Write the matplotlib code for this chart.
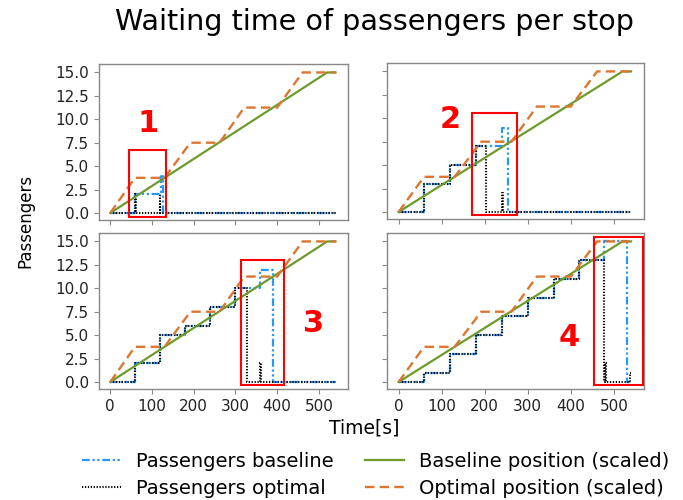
import matplotlib
matplotlib.use("Agg")
import matplotlib.pyplot as plt
from matplotlib.patches import Rectangle

# ---- data ----
pos_base_t = [0, 520, 540]
pos_base_v = [0, 15, 15]
pos_opt_t = [0, 59, 130, 192, 262, 321, 400, 461, 540]
pos_opt_v = [0, 3.75, 3.75, 7.5, 7.5, 11.25, 11.25, 15, 15]

base_t = [
    [0, 60, 122, 127, 540],
    [0, 60, 120, 180, 240, 254, 540],
    [0, 60, 120, 180, 240, 300, 360, 390, 540],
    [0, 60, 120, 180, 240, 300, 360, 420, 478, 530, 540],
]
base_v = [
    [0, 2, 4, 0, 0],
    [0, 3, 5, 7, 9, 0, 0],
    [0, 2, 5, 6, 8, 10, 12, 0, 0],
    [0, 1, 3, 5, 7, 9, 11, 13, 15, 0, 0],
]
opt_t = [
    [0, 60, 62, 118, 120, 540],
    [0, 60, 120, 180, 202, 240, 242, 540],
    [0, 60, 120, 180, 240, 300, 328, 360, 362, 540],
    [0, 60, 120, 180, 240, 300, 360, 420, 476, 480, 482, 537, 540],
]
opt_v = [
    [0, 2, 0, 2, 0, 0],
    [0, 3, 5, 7, 0, 2, 0, 0],
    [0, 2, 5, 6, 8, 10, 0, 2, 0, 0],
    [0, 1, 3, 5, 7, 9, 11, 13, 0, 2, 0, 1, 1],
]
labels_num = ["1", "2", "3", "4"]
label_xy = [(90, 9.6), (120, 9.9), (488, 6.2), (397, 4.8)]
boxes = [(46, -0.42, 134, 6.7), (171, -0.28, 274, 10.56),
         (313, -0.3, 416, 13.0), (453, -0.3, 567, 15.5)]

BLUE = "#2a97f5"
GREEN = "#6d9b2b"
ORANGE = "#dc7630"

fig = plt.figure(figsize=(6.83, 5.0), dpi=100)
rects = [
    [0.145, 0.560, 0.3646, 0.312],
    [0.5666, 0.562, 0.3763, 0.312],
    [0.145, 0.222, 0.3646, 0.312],
    [0.5666, 0.222, 0.3763, 0.312],
]
axes = []
for i, r in enumerate(rects):
    ax = fig.add_axes(r)
    axes.append(ax)
    lb, = ax.plot(base_t[i], base_v[i], drawstyle="steps-post", color=BLUE,
                  lw=1.6, linestyle=(0, (3.5, 1.2, 1, 1.2, 1, 1.2)),
                  label="Passengers baseline")
    lo, = ax.plot(opt_t[i], opt_v[i], drawstyle="steps-post", color="black",
                  lw=1.5, linestyle=(0, (0.6, 0.8)), label="Passengers optimal")
    lg, = ax.plot(pos_base_t, pos_base_v, color=GREEN, lw=1.6,
                  label="Baseline position (scaled)")
    lr, = ax.plot(pos_opt_t, pos_opt_v, color=ORANGE, lw=1.7,
                  linestyle=(0, (4, 2.2)), label="Optimal position (scaled)")
    x0, y0, x1, y1 = boxes[i]
    ax.add_patch(Rectangle((x0, y0), x1 - x0, y1 - y0, fill=False,
                           edgecolor="red", lw=1.5, zorder=5))
    ax.text(label_xy[i][0], label_xy[i][1], labels_num[i], color="red",
            fontsize=22, fontweight="bold", ha="center", va="center")
    ax.set_xlim(-27, 570)
    ax.set_ylim(-0.75, 15.9)
    ax.set_xticks([0, 100, 200, 300, 400, 500])
    ax.set_yticks([0, 2.5, 5, 7.5, 10, 12.5, 15])
    for s in ax.spines.values():
        s.set_color("#888888")
        s.set_linewidth(1.0)
    ax.tick_params(colors="#888888", labelcolor="#222222", labelsize=11,
                   length=3.5, width=0.8)
    if i in (0, 1):
        ax.set_xticklabels([])
    if i in (1, 3):
        ax.set_yticklabels([])
    else:
        ax.set_yticklabels(["0.0", "2.5", "5.0", "7.5", "10.0", "12.5", "15.0"])

fig.text(0.549, 0.955, "Waiting time of passengers per stop", ha="center",
         va="center", fontsize=20.6)
fig.text(0.037, 0.558, "Passengers", rotation=90, ha="center", va="center",
         fontsize=12)
fig.text(0.534, 0.145, "Time[s]", ha="center", va="center", fontsize=13.5)

fig.legend(handles=[lb, lo, lg, lr], loc="upper center",
           bbox_to_anchor=(0.55, 0.131), ncol=2, frameon=False, fontsize=14,
           columnspacing=1.6, handletextpad=0.8, labelspacing=0.4)

fig.savefig("out.png", dpi=100)
